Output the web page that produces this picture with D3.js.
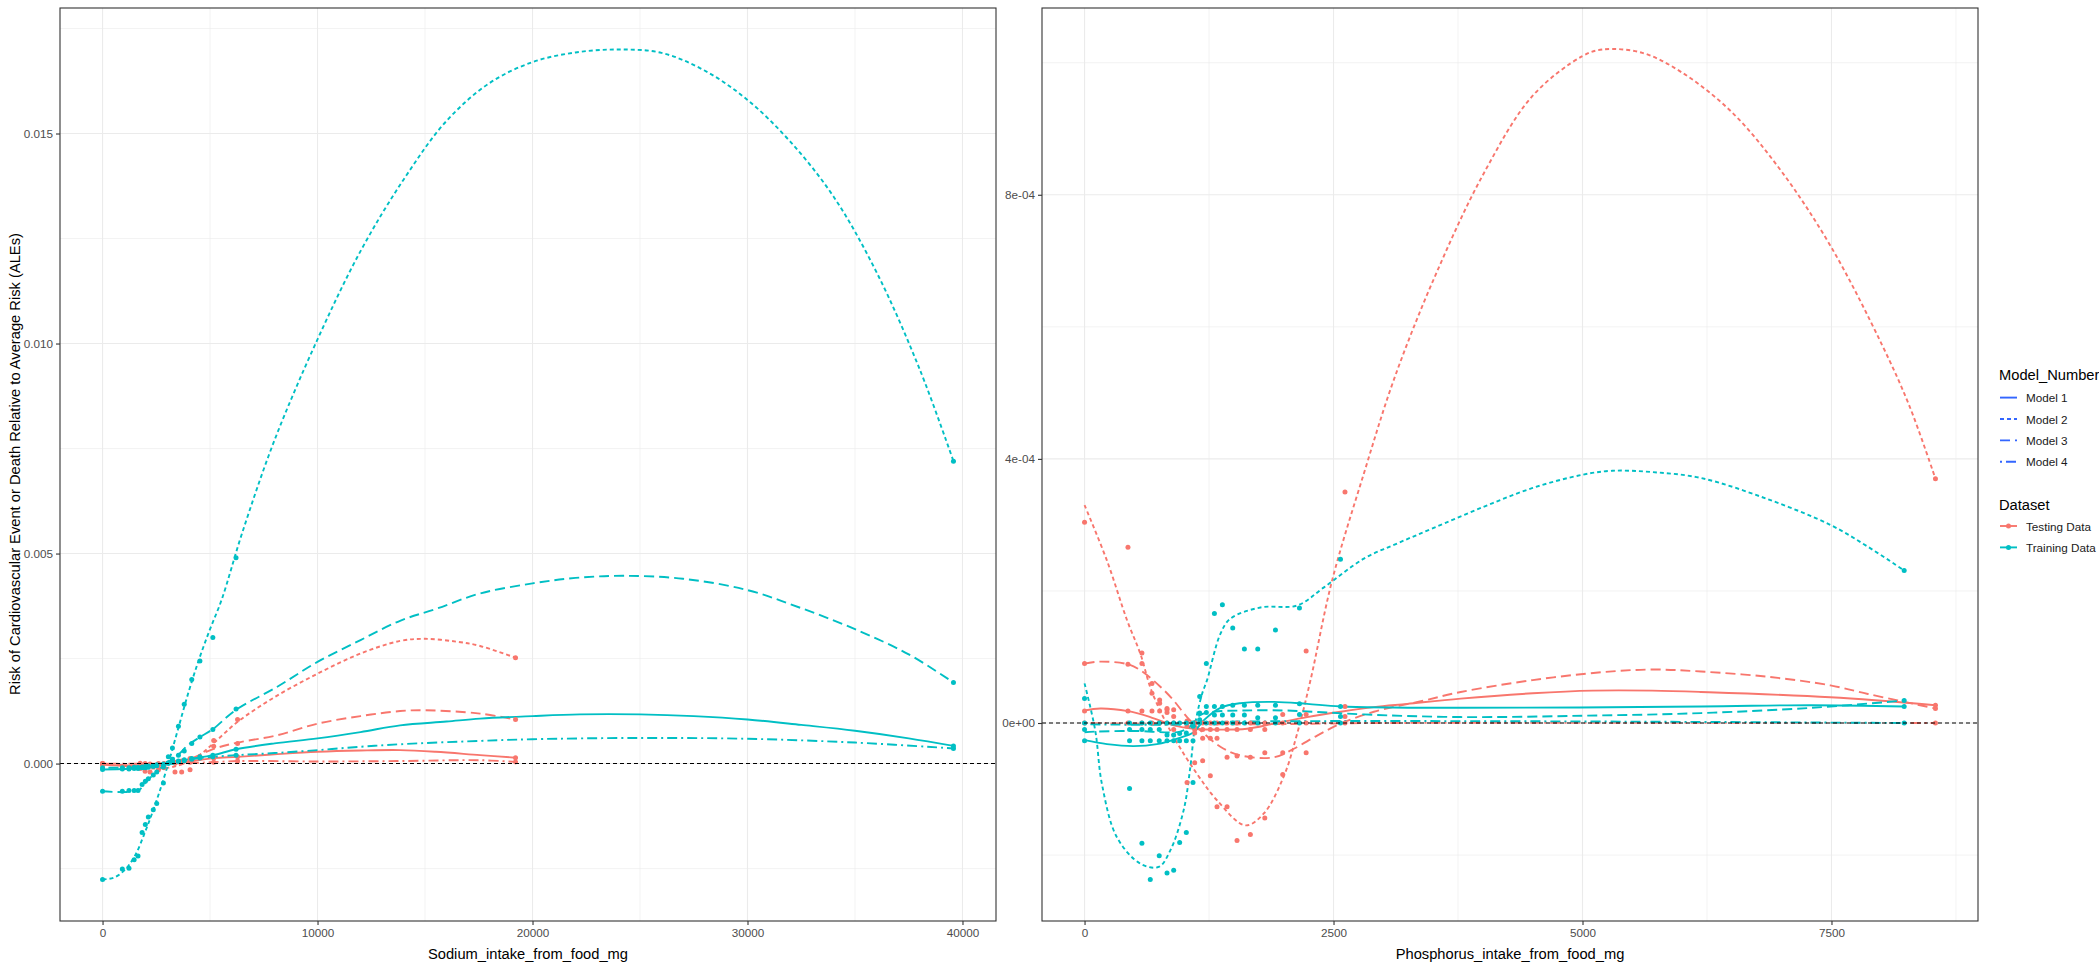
<!doctype html>
<meta charset="utf-8">
<title>ALE plots: sodium and phosphorus</title>
<script src="https://cdn.jsdelivr.net/npm/d3@7"></script>
<style>
  body { margin: 0; background: #fff; }
  text { font-family: "Liberation Sans", Arial, sans-serif; }
</style>
<div id="chart"></div>
<script>
  const models = ['Model 1', 'Model 2', 'Model 3', 'Model 4']
  const datasets = ['Testing Data', 'Training Data']

  // ---- Sodium panel: ALE points (bin grid per dataset) ----
  const naTestX = [0, 1750, 1980, 2210, 2600, 2860, 3370, 3680, 4070, 5170, 6280, 19210]
  const naTestM1 = [-0.00003, -0.00005, -0.00006, -0.00005, -0.00003, -0.00002, 0.00002, 0.00004, 0.00006, 0.00013, 0.00016, 0.00014]
  const naTestM2 = [0, -0.00012, -0.00018, -0.0002, -0.00015, -0.0001, -0.0002, -0.0002, -0.00015, 0.00055, 0.00105, 0.00252]
  const naTestM3 = [0, -0.00005, -0.00007, -0.00006, -0.00004, -0.00002, 0.00003, 0.00006, 0.00012, 0.00041, 0.00048, 0.00105]
  const naTestM4 = [0, 0.00001, 0, -0.00001, 0, 0, 0.00001, 0.00002, 0.00003, 0.00003, 0.00006, 0.00004]

  const naTrainX = [0, 920, 1230, 1470, 1650, 1840, 1990, 2130, 2360, 2520, 2830, 3060, 3250, 3530, 3800, 4150, 4530, 5130, 6210, 39580]
  const naTrainM1 = [-0.00014, -0.00013, -0.00013, -0.00012, -0.00012, -0.0001, -0.0001, -0.00009, -0.00007, -0.00005, -0.00002, 0.00001, 0.00003, 0.00006, 0.00009, 0.00012, 0.00016, 0.0002, 0.00034, 0.00042]
  const naTrainM2 = [-0.00276, -0.00251, -0.00249, -0.00229, -0.0022, -0.00164, -0.00145, -0.00127, -0.0011, -0.00095, -0.00046, 0.00016, 0.00037, 0.00089, 0.00141, 0.002, 0.00244, 0.003, 0.0049, 0.0072]
  const naTrainM3 = [-0.00066, -0.00066, -0.00064, -0.00064, -0.00064, -0.0005, -0.00042, -0.00036, -0.00027, -0.0002, -0.00008, 0.00002, 0.0001, 0.0002, 0.0003, 0.00048, 0.00063, 0.00081, 0.0013, 0.00193]
  const naTrainM4 = [-0.0001, -0.0001, -0.0001, -0.00009, -0.00009, -0.00008, -0.00007, -0.00006, -0.00005, -0.00003, -0.00001, 0.00001, 0.00003, 0.00005, 0.00007, 0.0001, 0.00013, 0.00016, 0.0002, 0.00036]

  // ---- Sodium panel: smoothed curves [x, ALE] ----
  const naTestM1Fit = [[0, -0.00003], [2000, -0.00005], [3000, 0], [4000, 0.00005], [5170, 0.00013], [6280, 0.00016], [8000, 0.00022], [10000, 0.00028], [12000, 0.00031], [13840, 0.00032], [15500, 0.00028], [17560, 0.0002], [19210, 0.00014]]
  const naTestM2Fit = [[0, 0], [1500, -0.00008], [2500, -0.00012], [3500, -0.00005], [4500, 0.0002], [5200, 0.0005], [6300, 0.001], [8000, 0.00158], [10000, 0.00214], [12000, 0.00262], [13840, 0.00292], [15000, 0.00297], [16500, 0.0029], [17560, 0.0028], [19210, 0.00252]]
  const naTestM3Fit = [[0, 0], [2000, -0.00005], [3000, 0], [4000, 0.0001], [5170, 0.00035], [6280, 0.0005], [8100, 0.00067], [10000, 0.00095], [12000, 0.00113], [13840, 0.00125], [15000, 0.00127], [17560, 0.00119], [19210, 0.00105]]
  const naTestM4Fit = [[0, 0], [3000, 0], [5000, 0.00003], [6280, 0.00006], [10000, 0.00005], [13840, 0.00006], [17560, 0.00008], [19210, 0.00004]]

  const naTrainM1Fit = [[0, -0.00014], [2000, -0.0001], [3000, 0], [4000, 0.0001], [5130, 0.0002], [6210, 0.00034], [8000, 0.00048], [10000, 0.0006], [12000, 0.00075], [13840, 0.00091], [16000, 0.001], [17560, 0.00107], [20000, 0.00113], [22200, 0.00117], [25000, 0.00117], [27500, 0.00113], [30000, 0.00105], [32500, 0.00092], [35000, 0.00078], [37500, 0.0006], [39580, 0.00042]]
  const naTrainM2Fit = [[0, -0.00276], [500, -0.00272], [1000, -0.00255], [1500, -0.0022], [2000, -0.0016], [2500, -0.0009], [3000, -0.0001], [3500, 0.0008], [4000, 0.0017], [4500, 0.0025], [5000, 0.0032], [5540, 0.0039], [6500, 0.0055], [8000, 0.0077], [10000, 0.0101], [12000, 0.0122], [14000, 0.0139], [16000, 0.0153], [18000, 0.0162], [20000, 0.0167], [22000, 0.01693], [24000, 0.017], [26000, 0.01692], [28000, 0.0165], [30000, 0.0158], [32000, 0.0148], [34000, 0.0135], [36000, 0.0117], [38000, 0.0094], [39580, 0.0072]]
  const naTrainM3Fit = [[0, -0.00066], [1650, -0.00064], [2000, -0.00045], [2500, -0.0002], [3000, 0.00002], [3500, 0.0002], [4000, 0.00045], [4530, 0.00063], [5130, 0.00082], [6210, 0.00128], [8100, 0.00182], [10000, 0.00242], [12000, 0.00294], [13840, 0.0034], [15500, 0.00368], [17560, 0.00405], [20000, 0.00429], [22000, 0.00442], [24200, 0.00447], [27000, 0.0044], [30000, 0.00413], [32500, 0.0037], [35000, 0.0032], [37500, 0.0026], [39580, 0.00193]]
  const naTrainM4Fit = [[0, -0.0001], [2000, -0.00008], [3000, 0], [4000, 0.0001], [5130, 0.00016], [6210, 0.0002], [8000, 0.00025], [10000, 0.00032], [12000, 0.0004], [13840, 0.00046], [17560, 0.00054], [20000, 0.00058], [25000, 0.00061], [30000, 0.00059], [35000, 0.0005], [39580, 0.00036]]

  // ---- Phosphorus panel: ALE points ----
  const pTestX = [0, 436, 576, 677, 754, 828, 895, 1029, 1106, 1186, 1263, 1330, 1431, 1531, 1665, 1810, 1990, 2225, 2615, 8544]
  const pTestM1 = [1.8e-5, 1.8e-5, 1.8e-5, 1.8e-5, 1.8e-5, 1.6e-5, 1e-5, 3e-6, -1e-5, -1e-5, -1e-5, -1e-5, -1e-5, -1e-5, -1e-5, -1e-5, 1.3e-5, 1.3e-5, 2.5e-5, 2.7e-5]
  const pTestM2 = [3.04e-4, 2.66e-4, 1.06e-4, 6e-5, 3.5e-5, 2e-5, -1e-5, -9e-5, -6e-5, -5.7e-5, -8e-5, -1.27e-4, -1.27e-4, -1.78e-4, -1.69e-4, -1.44e-4, -7.8e-5, 1.09e-4, 3.5e-4, 3.7e-4]
  const pTestM3 = [9e-5, 8.9e-5, 9e-5, 4.5e-5, 3e-5, 2.2e-5, 2e-5, -5e-6, -1.5e-5, -2.3e-5, -2.3e-5, -2.3e-5, -5.2e-5, -5e-5, -5.2e-5, -4.5e-5, -4.5e-5, -4.5e-5, 1e-5, 2.2e-5]
  const pTestM4 = [0, 0, 0, 0, 0, 0, 0, 0, 0, 0, 0, 0, 0, 0, 0, 0, 0, 0, 0, 0]

  const pTrainX = [0, 452, 576, 660, 750, 828, 895, 955, 1022, 1089, 1156, 1223, 1304, 1384, 1488, 1605, 1739, 1917, 2158, 2570, 8230]
  const pTrainM1 = [-2.7e-5, -2.7e-5, -2.7e-5, -2.7e-5, -2.7e-5, -2.7e-5, -2.7e-5, -2.7e-5, -2.7e-5, -2.7e-5, 5e-6, 2.5e-5, 2.5e-5, 2.5e-5, 2.7e-5, 2.7e-5, 2.7e-5, 2.7e-5, 2.9e-5, 2.5e-5, 2.5e-5]
  const pTrainM2 = [3.7e-5, -9.9e-5, -1.82e-4, -2.37e-4, -2.01e-4, -2.27e-4, -2.23e-4, -1.81e-4, -1.66e-4, -9e-5, 4e-5, 9e-5, 1.66e-4, 1.79e-4, 1.44e-4, 1.12e-4, 1.12e-4, 1.41e-4, 1.74e-4, 2.48e-4, 2.31e-4]
  const pTrainM3 = [-1e-5, -1e-5, -1e-5, -1e-5, -1e-5, -1.8e-5, -1.8e-5, -1.6e-5, -1.5e-5, -5e-6, 1.5e-5, 1.6e-5, 1.2e-5, 1.2e-5, 1.2e-5, 1.2e-5, 8e-6, 8e-6, 1.3e-5, 1e-5, 3.4e-5]
  const pTrainM4 = [0, 0, 0, 0, 0, 0, 0, 0, 0, 0, 0, 0, 0, 0, 0, 0, 0, 0, 0, 0, 0]

  // ---- Phosphorus panel: smoothed curves ----
  const pTestM1Fit = [[0, 1.9e-5], [157, 2.2e-5], [436, 1.8e-5], [660, 9e-6], [895, -3.5e-6], [1096, -8.6e-6], [1364, -1e-5], [1632, -8.6e-6], [1900, -1e-6], [2235, 9e-6], [2570, 1.7e-5], [2905, 2.4e-5], [3240, 2.9e-5], [3777, 3.7e-5], [4500, 4.5e-5], [5100, 4.9e-5], [5700, 4.9e-5], [6191, 4.7e-5], [7489, 3.9e-5], [8544, 2.7e-5]]
  const pTestM2Fit = [[0, 3.3e-4], [225, 2.46e-4], [426, 1.56e-4], [560, 1.05e-4], [677, 4.7e-5], [895, -2.1e-5], [1129, -7.7e-5], [1330, -1.17e-4], [1615, -1.55e-4], [1800, -1.37e-4], [2000, -8.1e-5], [2135, -1.6e-5], [2269, 6.5e-5], [2486, 2.16e-4], [2805, 3.78e-4], [3106, 5.2e-4], [3500, 6.7e-4], [4000, 8.3e-4], [4500, 9.5e-4], [5000, 1.01e-3], [5200, 1.02e-3], [5600, 1.015e-3], [6000, 9.85e-4], [6500, 9.25e-4], [7000, 8.35e-4], [7500, 7.2e-4], [8000, 5.75e-4], [8283, 4.8e-4], [8544, 3.7e-4]]
  const pTestM3Fit = [[0, 9e-5], [150, 9.3e-5], [436, 8.9e-5], [560, 8e-5], [761, 5.5e-5], [895, 3.4e-5], [1029, 9e-6], [1163, -1.1e-5], [1364, -3.6e-5], [1565, -4.9e-5], [1900, -5.2e-5], [2101, -3.9e-5], [2336, -1.9e-5], [2570, -1e-6], [2905, 1.7e-5], [3408, 3.4e-5], [3777, 4.7e-5], [4500, 6.5e-5], [5200, 7.7e-5], [5700, 8.1e-5], [6191, 7.8e-5], [6860, 7e-5], [7489, 5.7e-5], [7865, 4.4e-5], [8544, 2.2e-5]]
  const pTestM4Fit = [[0, 0], [1500, -2e-6], [3000, 0], [8544, 0]]

  const pTrainM1Fit = [[0, -2.6e-5], [225, -3.2e-5], [493, -3.5e-5], [727, -3.2e-5], [962, -2.2e-5], [1096, -1.4e-5], [1196, 4e-6], [1364, 2.3e-5], [1565, 3e-5], [1900, 3.2e-5], [2235, 2.9e-5], [2570, 2.5e-5], [3777, 2.3e-5], [6191, 2.5e-5], [7300, 2.7e-5], [8230, 2.5e-5]]
  const pTrainM2Fit = [[0, 6e-5], [107, -1.1e-5], [174, -9.2e-5], [325, -1.73e-4], [560, -2.13e-4], [744, -2.18e-4], [861, -1.93e-4], [995, -1.32e-4], [1062, -6.7e-5], [1113, 0], [1180, 4.4e-5], [1230, 6.5e-5], [1364, 1.35e-4], [1464, 1.58e-4], [1766, 1.75e-4], [2135, 1.78e-4], [2400, 2.05e-4], [2805, 2.49e-4], [3140, 2.72e-4], [3500, 2.95e-4], [4000, 3.27e-4], [4500, 3.56e-4], [5000, 3.76e-4], [5300, 3.82e-4], [5700, 3.8e-4], [6191, 3.71e-4], [6860, 3.39e-4], [7489, 3e-4], [7865, 2.67e-4], [8230, 2.31e-4]]
  const pTrainM3Fit = [[0, -1.4e-5], [100, -1.3e-5], [500, -1.2e-5], [960, -1.3e-5], [1060, -5e-6], [1160, 1.2e-5], [1300, 1.7e-5], [1600, 1.9e-5], [2000, 1.9e-5], [2300, 1.7e-5], [2800, 1.3e-5], [3777, 9e-6], [5000, 1.1e-5], [6191, 1.5e-5], [7300, 2.3e-5], [8230, 3.4e-5]]
  const pTrainM4Fit = [[0, -2e-6], [1000, -2e-6], [1200, 1e-6], [8230, 0]]

  // axis ticks and labels
  const naXTicks = [0, 10000, 20000, 30000, 40000]
  const naXMinor = [5000, 15000, 25000, 35000]
  const naYTicks = [0, 0.005, 0.01, 0.015]
  const naYLabels = ['0.000', '0.005', '0.010', '0.015']
  const naYMinor = [-0.0025, 0.0025, 0.0075, 0.0125, 0.0175]
  const pXTicks = [0, 2500, 5000, 7500]
  const pXMinor = [1250, 3750, 6250, 8750]
  const pYTicks = [0, 0.0004, 0.0008]
  const pYLabels = ['0e+00', '4e-04', '8e-04']
  const pYMinor = [-0.0002, 0.0002, 0.0006, 0.001]

  const colors = { 'Testing Data': '#F8766D', 'Training Data': '#00BFC4' }
  const dash = { 'Model 1': null, 'Model 2': '4,3', 'Model 3': '10,5', 'Model 4': '2,4,10,4' }

  const svg = d3.select('#chart').append('svg')
    .attr('width', 2099)
    .attr('height', 965)
    .style('background', '#fff')

  const panels = [
    {
      left: 60, right: 996, top: 8, bottom: 921,
      title: 'Sodium_intake_from_food_mg',
      xTicks: naXTicks, xLabels: naXTicks.map(String), xMinor: naXMinor,
      yTicks: naYTicks, yLabels: naYLabels, yMinor: naYMinor,
      series: [
        { ds: 'Testing Data', x: naTestX, pts: [naTestM1, naTestM2, naTestM3, naTestM4], fits: [naTestM1Fit, naTestM2Fit, naTestM3Fit, naTestM4Fit] },
        { ds: 'Training Data', x: naTrainX, pts: [naTrainM1, naTrainM2, naTrainM3, naTrainM4], fits: [naTrainM1Fit, naTrainM2Fit, naTrainM3Fit, naTrainM4Fit] }
      ]
    },
    {
      left: 1042, right: 1978, top: 8, bottom: 921,
      title: 'Phosphorus_intake_from_food_mg',
      xTicks: pXTicks, xLabels: pXTicks.map(String), xMinor: pXMinor,
      yTicks: pYTicks, yLabels: pYLabels, yMinor: pYMinor,
      series: [
        { ds: 'Testing Data', x: pTestX, pts: [pTestM1, pTestM2, pTestM3, pTestM4], fits: [pTestM1Fit, pTestM2Fit, pTestM3Fit, pTestM4Fit] },
        { ds: 'Training Data', x: pTrainX, pts: [pTrainM1, pTrainM2, pTrainM3, pTrainM4], fits: [pTrainM1Fit, pTrainM2Fit, pTrainM3Fit, pTrainM4Fit] }
      ]
    }
  ]

  // ggplot style 5% expansion
  const expand = ([a, b]) => [a - (b - a) * 0.05, b + (b - a) * 0.05]

  panels.forEach(p => {
    const allX = p.series.flatMap(s => s.x.concat(s.fits.flatMap(f => f.map(d => d[0]))))
    const allY = p.series.flatMap(s => s.pts.flat().concat(s.fits.flatMap(f => f.map(d => d[1]))))
    const x = d3.scaleLinear().domain(expand(d3.extent(allX))).range([p.left, p.right])
    const y = d3.scaleLinear().domain(expand(d3.extent(allY))).range([p.bottom, p.top])

    const g = svg.append('g')

    // grid
    g.selectAll('.xminor').data(p.xMinor.filter(v => v >= x.domain()[0] && v <= x.domain()[1])).enter()
      .append('line').attr('x1', d => x(d)).attr('x2', d => x(d)).attr('y1', p.top).attr('y2', p.bottom)
      .attr('stroke', '#EBEBEB').attr('stroke-width', 0.6)
    g.selectAll('.yminor').data(p.yMinor.filter(v => v >= y.domain()[0] && v <= y.domain()[1])).enter()
      .append('line').attr('y1', d => y(d)).attr('y2', d => y(d)).attr('x1', p.left).attr('x2', p.right)
      .attr('stroke', '#EBEBEB').attr('stroke-width', 0.6)
    g.selectAll('.xmajor').data(p.xTicks).enter()
      .append('line').attr('x1', d => x(d)).attr('x2', d => x(d)).attr('y1', p.top).attr('y2', p.bottom)
      .attr('stroke', '#EBEBEB').attr('stroke-width', 1.1)
    g.selectAll('.ymajor').data(p.yTicks).enter()
      .append('line').attr('y1', d => y(d)).attr('y2', d => y(d)).attr('x1', p.left).attr('x2', p.right)
      .attr('stroke', '#EBEBEB').attr('stroke-width', 1.1)

    // smooth curves, testing first then training
    const line = d3.line().x(d => x(d[0])).y(d => y(d[1])).curve(d3.curveCatmullRom.alpha(0.5))
    p.series.forEach(s => {
      s.fits.forEach((f, i) => {
        g.append('path')
          .attr('d', line(f))
          .attr('fill', 'none')
          .attr('stroke', colors[s.ds])
          .attr('stroke-width', 1.9)
          .attr('stroke-dasharray', dash[models[i]])
      })
    })

    // ALE points
    p.series.forEach(s => {
      s.pts.forEach(vals => {
        g.selectAll(null).data(vals.map((v, j) => [s.x[j], v])).enter()
          .append('circle')
          .attr('cx', d => x(d[0]))
          .attr('cy', d => y(d[1]))
          .attr('r', 2.5)
          .attr('fill', colors[s.ds])
      })
    })

    // zero reference
    g.append('line')
      .attr('x1', p.left).attr('x2', p.right)
      .attr('y1', y(0)).attr('y2', y(0))
      .attr('stroke', '#000').attr('stroke-width', 1.1)
      .attr('stroke-dasharray', '4,3')

    // border
    g.append('rect')
      .attr('x', p.left).attr('y', p.top)
      .attr('width', p.right - p.left).attr('height', p.bottom - p.top)
      .attr('fill', 'none').attr('stroke', '#333').attr('stroke-width', 1.1)

    // axes
    const xAxis = g.append('g').attr('transform', `translate(0,${p.bottom})`)
      .call(d3.axisBottom(x).tickValues(p.xTicks).tickFormat((d, i) => p.xLabels[i]).tickSize(4).tickPadding(4))
    const yAxis = g.append('g').attr('transform', `translate(${p.left},0)`)
      .call(d3.axisLeft(y).tickValues(p.yTicks).tickFormat((d, i) => p.yLabels[i]).tickSize(4).tickPadding(3))
    ;[xAxis, yAxis].forEach(a => {
      a.select('.domain').remove()
      a.selectAll('.tick line').attr('stroke', '#333').attr('stroke-width', 1.1)
      a.selectAll('.tick text').attr('fill', '#4D4D4D').style('font-size', '11.7px')
        .style('font-family', '"Liberation Sans", Arial, sans-serif')
    })

    svg.append('text')
      .attr('x', (p.left + p.right) / 2)
      .attr('y', 954)
      .attr('text-anchor', 'middle')
      .attr('dominant-baseline', 'central')
      .style('font-size', '14.7px')
      .text(p.title)
  })

  // y axis title (shared)
  svg.append('text')
    .attr('transform', 'translate(15,464) rotate(-90)')
    .attr('text-anchor', 'middle')
    .attr('dominant-baseline', 'central')
    .style('font-size', '14.7px')
    .text('Risk of Cardiovascular Event or Death Relative to Average Risk (ALEs)')

  // legends
  const leg = svg.append('g').attr('transform', 'translate(1999,0)')
  leg.append('text').attr('x', 0).attr('y', 375).attr('dominant-baseline', 'central')
    .style('font-size', '14.7px').text('Model_Number')
  models.forEach((m, i) => {
    const cy = 397.6 + i * 21.4
    leg.append('line').attr('x1', 1).attr('x2', 18).attr('y1', cy).attr('y2', cy)
      .attr('stroke', '#3366FF').attr('stroke-width', 1.9)
      .attr('stroke-dasharray', dash[m])
    leg.append('text').attr('x', 27).attr('y', cy).attr('dominant-baseline', 'central')
      .style('font-size', '11.7px').attr('fill', '#1a1a1a').text(m)
  })
  leg.append('text').attr('x', 0).attr('y', 505).attr('dominant-baseline', 'central')
    .style('font-size', '14.7px').text('Dataset')
  datasets.forEach((d, i) => {
    const cy = 526 + i * 21.4
    leg.append('line').attr('x1', 1).attr('x2', 18).attr('y1', cy).attr('y2', cy)
      .attr('stroke', colors[d]).attr('stroke-width', 1.9)
    leg.append('circle').attr('cx', 9.5).attr('cy', cy).attr('r', 2.5).attr('fill', colors[d])
    leg.append('text').attr('x', 27).attr('y', cy).attr('dominant-baseline', 'central')
      .style('font-size', '11.7px').attr('fill', '#1a1a1a').text(d)
  })
</script>
